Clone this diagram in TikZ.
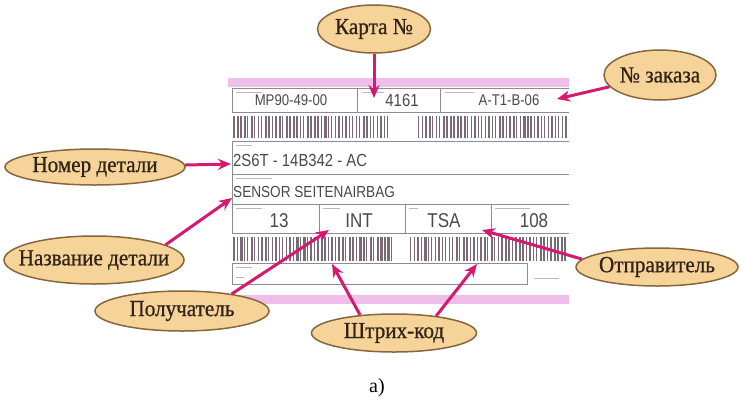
\documentclass[tikz,border=0pt]{standalone}
\usepackage{fontspec}
\setmainfont{Liberation Serif}
\newfontfamily\bubfont[FakeStretch=0.92, FakeBold=0.8]{Liberation Serif}
\newfontfamily\lblfont[FakeStretch=0.85]{Liberation Sans}
\usetikzlibrary{arrows.meta, shapes.geometric}
\definecolor{bubfill}{HTML}{F6D398}
\definecolor{bubdraw}{HTML}{86663C}
\definecolor{bubtext}{HTML}{33241A}
\definecolor{accent}{HTML}{D6196F}
\definecolor{band}{HTML}{EDBFEA}
\definecolor{barc}{HTML}{7A6A77}
\definecolor{rulec}{HTML}{8C8C8C}
\definecolor{ink}{HTML}{4A4A4A}
\newcommand{\bubtxt}[1]{\makebox[0pt]{#1}}

\begin{document}
\begin{tikzpicture}[x=1pt, y=-1pt,
    bub/.style={ellipse, draw=bubdraw, line width=1.5pt, fill=bubfill, inner sep=0pt,
      text=bubtext, font=\bubfont\fontsize{23}{26}\selectfont},
    arr/.style={-{Stealth[length=13pt, width=11pt]}, line width=3pt, color=accent},
    lblval/.style={text=ink, inner sep=0pt, font=\lblfont\fontsize{20}{22}\selectfont},
    cell/.style={draw=rulec, line width=1pt},
    mini/.style={draw=rulec!60, line width=0.6pt},
    barln/.style={fill=barc}]
  \fill[white] (0,0) rectangle (741,400);
  \useasboundingbox (0,0) rectangle (741,400);

  % label card
  \fill[band] (228,78) rectangle (569,87);
  \fill[band] (228,295) rectangle (569,304);
  \draw[cell] (569,88) -- (232,88) -- (232,112) -- (569,112);
  \draw[cell] (357,88) -- (357,112) (440,88) -- (440,112);
  \draw[cell] (569,141) -- (232,141) -- (232,233) -- (569,233);
  \draw[cell] (232,174) -- (569,174) (232,204) -- (569,204);
  \draw[cell] (319,204) -- (319,233) (405,204) -- (405,233) (491,204) -- (491,233);
  \draw[cell] (232,263) rectangle (527,284);
  \draw[mini] (236,92) -- (262,92) (362,92) -- (384,92) (445,92) -- (474,92);
  \draw[mini] (236,145) -- (252,145) (236,178) -- (272,178);
  \draw[mini] (236,208) -- (262,208) (323,208) -- (340,208) (409,208) -- (418,208) (495,208) -- (530,208);
  \draw[mini] (236,267) -- (252,267) (236,277) -- (244,277) (534,278) -- (559,278);

  % barcodes
  \pgfmathsetseed{11}
  \foreach \x in {233,236.5,...,389,418,421.5,...,566}{
    \pgfmathsetmacro{\w}{0.9+1.9*rnd}
    \fill[barln] (\x,116) rectangle ++(\w,22);
  }
  \foreach \x in {233,236.5,...,392,410,413.5,...,566}{
    \pgfmathsetmacro{\w}{0.9+1.9*rnd}
    \fill[barln] (\x,237) rectangle ++(\w,24);
  }

  \node[lblval, font=\lblfont\fontsize{15.5}{17}\selectfont] (mp) at (291,100) {MP90-49-00};
  \node[lblval, font=\lblfont\fontsize{17.5}{19}\selectfont] (num) at (402,100) {4161};
  \node[lblval, font=\lblfont\fontsize{15.5}{17}\selectfont] (ord) at (509,100) {A-T1-B-06};
  \node[lblval, anchor=west, font=\lblfont\fontsize{17.5}{19}\selectfont] (part) at (233,160) {2S6T - 14B342 - AC};
  \node[lblval, anchor=west, font=\lblfont\fontsize{16}{18}\selectfont] (name) at (233,192) {SENSOR SEITENAIRBAG};
  \node[lblval] (qty) at (279,221) {13};
  \node[lblval] (rcv) at (359,221) {INT};
  \node[lblval] (snd) at (444,221) {TSA};
  \node[lblval] (pos) at (534,221) {108};

  % callouts
  \node[bub, minimum width=113pt, minimum height=48pt] (kart) at (374,29) {\bubtxt{Карта №}};
  \node[bub, minimum width=112pt, minimum height=50pt] (zak) at (660,75) {\bubtxt{№ заказа}};
  \node[bub, minimum width=180pt, minimum height=36pt] (nom) at (95,167) {\bubtxt{Номер детали}};
  \node[bub, minimum width=180pt, minimum height=48pt] (naz) at (94,260) {\bubtxt{Название детали}};
  \node[bub, minimum width=174pt, minimum height=40pt] (pol) at (182,311) {\bubtxt{Получатель}};
  \node[bub, minimum width=165pt, minimum height=38pt] (shk) at (394,333) {\bubtxt{Штрих-код}};
  \node[bub, minimum width=162pt, minimum height=38pt] (otp) at (657,267) {\bubtxt{Отправитель}};
  \node[font=\fontsize{20}{22}\selectfont] (fig) at (377,388) {а)};

  \coordinate (kartTip) at (374,98);
  \coordinate (zakTip) at (557,99);
  \coordinate (nomTip) at (231,164);
  \coordinate (nazTip) at (232,198);
  \coordinate (polTip) at (329,230);
  \coordinate (shkTipA) at (332,264);
  \coordinate (shkTipB) at (477,264);
  \coordinate (otpTip) at (482,230);
  \draw[arr] (kart) -- (kartTip);
  \draw[arr] (zak) -- (zakTip);
  \draw[arr] (nom) -- (nomTip);
  \draw[arr] (naz.12) -- (nazTip);
  \draw[arr] (pol.19) -- (polTip);
  \draw[arr] (shk.152) -- (shkTipA);
  \draw[arr] (shk.22) -- (shkTipB);
  \draw[arr] (otp.174) -- (otpTip);
\end{tikzpicture}
\end{document}
